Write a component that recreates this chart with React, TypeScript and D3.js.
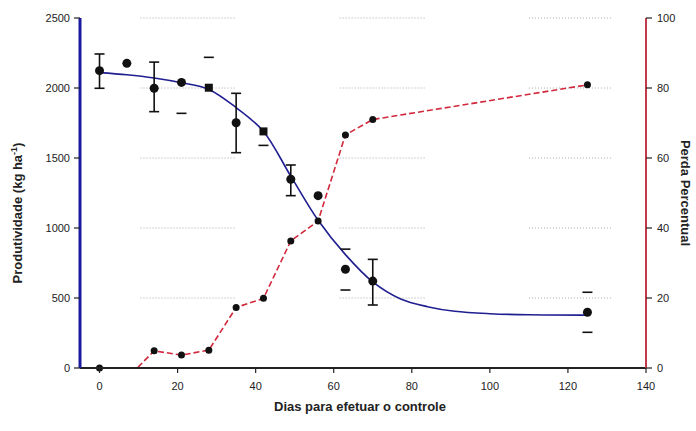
import React from "react";
import * as d3 from "d3";

// ---- data ----
const days = [0, 7, 14, 21, 28, 35, 42, 49, 56, 63, 70, 125];
const productivity = [2124, 2176, 1998, 2040, 2002, 1752, 1690, 1348, 1231, 705, 621, 398];
const errHigh: (number | null)[] = [2243, null, 2185, null, 2219, 1962, null, 1450, null, 849, 776, 541];
const errLow: (number | null)[] = [1998, null, 1831, 1819, null, 1538, 1590, 1231, null, 557, 450, 255];
const errStem = [true, false, true, false, false, true, false, true, false, false, true, false];
const markerSquare = [false, false, false, false, true, false, true, false, false, false, false, false];

const lossPct = [0, -3, 4.9, 3.7, 5.1, 17.3, 19.9, 36.3, 42, 66.6, 71, 80.9];

const fitDays = [0, 7, 14, 21, 28, 35, 42, 49, 56, 63, 70, 77, 84, 91, 100, 110, 125];
const fitProd = [2110, 2095, 2072, 2038, 1990, 1860, 1690, 1370, 1055, 810, 615, 495, 438, 405, 388, 380, 378];

const xTicks = [0, 20, 40, 60, 80, 100, 120, 140];
const yLeftTicks = [0, 500, 1000, 1500, 2000, 2500];
const yRightTicks = [0, 20, 40, 60, 80, 100];
const gridSpans = [[10.5, 35], [61.5, 83.5], [110, 131]];
const gridValues = [500, 1000, 1500, 2000, 2500];

const W = 696, H = 431;
const left = 80, right = 646, top = 18, bottom = 368;
const FONT = "'Liberation Sans', Arial, sans-serif";

export default function App() {
  const x = d3.scaleLinear().domain([-5, 140]).range([left, right]);
  const yL = d3.scaleLinear().domain([0, 2500]).range([bottom, top]);
  const yR = d3.scaleLinear().domain([0, 100]).range([bottom, top]);

  const fitLine = d3.line<number>()
    .x((_, i) => x(fitDays[i]))
    .y((d) => yL(d))
    .curve(d3.curveCatmullRom.alpha(0.5))(fitProd) || "";

  const lossLine = d3.line<number>()
    .x((_, i) => x(days[i]))
    .y((d) => yR(d))(lossPct) || "";

  const cap = 5;

  return (
    <svg width={W} height={H} style={{ position: "absolute", left: 0, top: 0, background: "#fff" }}
      fontFamily={FONT}>
      <defs>
        <clipPath id="plot">
          <rect x={left} y={0} width={right - left} height={bottom} />
        </clipPath>
      </defs>
      {/* grid segments */}
      {gridValues.map((v) =>
        gridSpans.map((s, j) => (
          <line key={v + "-" + j} x1={x(s[0])} x2={x(s[1])} y1={yL(v)} y2={yL(v)}
            stroke="#a8a8a8" strokeWidth={1} strokeDasharray="1,2" />
        ))
      )}

      {/* fitted curve */}
      <path d={fitLine} fill="none" stroke="#1f1f92" strokeWidth={1.6} />

      {/* loss line */}
      <g clipPath="url(#plot)">
        <path d={lossLine} fill="none" stroke="#d2283c" strokeWidth={1.6} strokeDasharray="6,3" />
      </g>

      {/* error bars */}
      {days.map((d, i) => {
        const cx = x(d);
        const hi = errHigh[i], lo = errLow[i];
        return (
          <g key={"e" + i} stroke="#111" strokeWidth={1.6}>
            {errStem[i] && hi != null && lo != null && (
              <line x1={cx} x2={cx} y1={yL(hi)} y2={yL(lo)} />
            )}
            {hi != null && <line x1={cx - cap} x2={cx + cap} y1={yL(hi)} y2={yL(hi)} />}
            {lo != null && <line x1={cx - cap} x2={cx + cap} y1={yL(lo)} y2={yL(lo)} />}
          </g>
        );
      })}

      {/* productivity markers */}
      {days.map((d, i) =>
        markerSquare[i] ? (
          <rect key={"p" + i} x={x(d) - 4} y={yL(productivity[i]) - 4} width={8} height={8} fill="#111" />
        ) : (
          <circle key={"p" + i} cx={x(d)} cy={yL(productivity[i])} r={4.5} fill="#111" />
        )
      )}

      {/* loss markers */}
      {days.map((d, i) =>
        lossPct[i] >= 0 ? (
          <circle key={"l" + i} cx={x(d)} cy={yR(lossPct[i])} r={3.5} fill="#111" />
        ) : null
      )}

      {/* x axis */}
      <line x1={left} x2={right} y1={bottom} y2={bottom} stroke="#222" strokeWidth={2} />
      {xTicks.map((t) => (
        <g key={"xt" + t}>
          <line x1={x(t)} x2={x(t)} y1={bottom} y2={bottom + 5} stroke="#222" strokeWidth={1.2} />
          <text x={x(t)} y={bottom + 22} textAnchor="middle" fontSize={11} fill="#222">{t}</text>
        </g>
      ))}

      {/* left axis */}
      <line x1={left} x2={left} y1={top} y2={bottom} stroke="#1a1a9e" strokeWidth={3} />
      {yLeftTicks.map((t) => (
        <g key={"yl" + t}>
          <line x1={left - 6} x2={left} y1={yL(t)} y2={yL(t)} stroke="#222" strokeWidth={1.2} />
          <text x={left - 10} y={yL(t)} dy="0.35em" textAnchor="end" fontSize={11} fill="#222">{t}</text>
        </g>
      ))}

      {/* right axis */}
      <line x1={right} x2={right} y1={top} y2={bottom} stroke="#c23a4c" strokeWidth={2} />
      {yRightTicks.map((t) => (
        <g key={"yr" + t}>
          <line x1={right} x2={right + 6} y1={yR(t)} y2={yR(t)} stroke="#222" strokeWidth={1.2} />
          <text x={right + 11} y={yR(t)} dy="0.35em" textAnchor="start" fontSize={11} fill="#222">{t}</text>
        </g>
      ))}

      {/* titles */}
      <text x={(left + right) / 2 - 3} y={411} textAnchor="middle" fontSize={13} fontWeight="bold" fill="#222">
        Dias para efetuar o controle
      </text>
      <text transform={`translate(22, ${(top + bottom) / 2 + 20}) rotate(-90)`} textAnchor="middle"
        fontSize={13} fontWeight="bold" fill="#222">
        Produtividade (kg ha<tspan dy="-5" fontSize={9}>-1</tspan><tspan dy="5">)</tspan>
      </text>
      <text transform={`translate(681, ${(top + bottom) / 2}) rotate(90)`} textAnchor="middle"
        fontSize={13} fontWeight="bold" fill="#222">
        Perda Percentual
      </text>
    </svg>
  );
}
